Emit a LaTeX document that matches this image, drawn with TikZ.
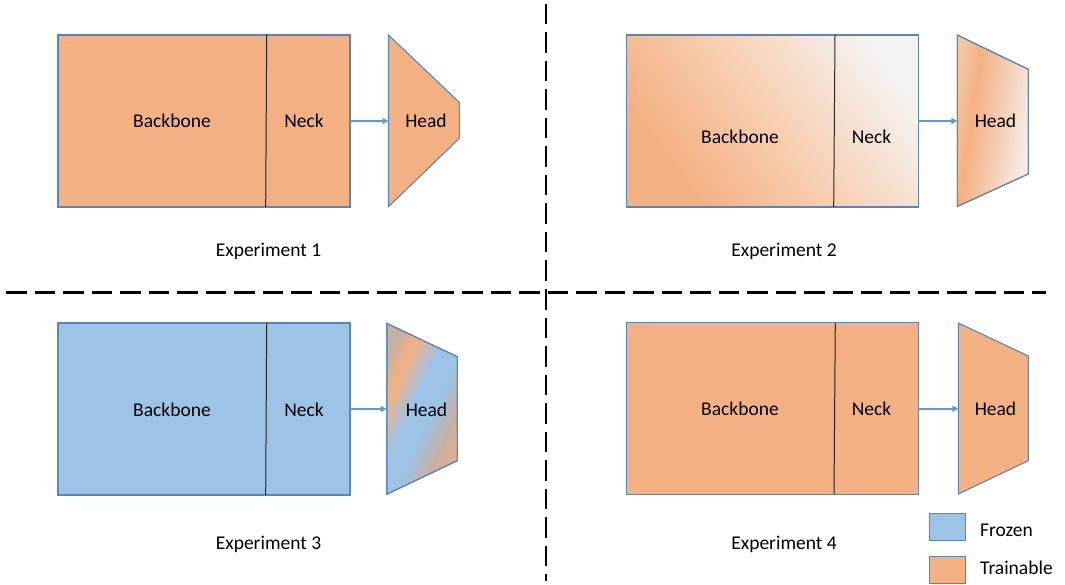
\documentclass[tikz,border=0pt]{standalone}
\usepackage{fontspec}
\setmainfont{Carlito}
\usetikzlibrary{arrows.meta}
\definecolor{orng}{HTML}{F4B183}
\definecolor{frz}{HTML}{9DC3E6}
\definecolor{edgeb}{HTML}{5A86B6}
\definecolor{arrb}{HTML}{5B9BD5}
\definecolor{tanmix}{HTML}{C6B0A2}
\definecolor{paleend}{HTML}{F5F3F2}
\pgfdeclarehorizontalshading{rectfade}{100bp}{color(0bp)=(orng); color(28bp)=(orng); color(50bp)=(orng!62!white); color(76bp)=(paleend); color(100bp)=(paleend)}
\pgfdeclarehorizontalshading{headfade}{100bp}{color(0bp)=(orng!70!white); color(25bp)=(orng!72!white); color(37bp)=(orng); color(76bp)=(paleend); color(100bp)=(paleend)}
\pgfdeclarehorizontalshading{headmix}{100bp}{color(0bp)=(tanmix); color(24bp)=(tanmix); color(33bp)=(orng); color(45bp)=(frz); color(55bp)=(frz); color(66bp)=(tanmix); color(76bp)=(orng!70!tanmix); color(100bp)=(orng!70!tanmix)}
\tikzset{
  box/.style={draw=edgeb, line width=1.1pt},
  divline/.style={draw=black!85, line width=1pt},
  link/.style={draw=arrb, line width=2pt, -{Triangle[length=6pt,width=6pt]}},
  lbl/.style={anchor=base, inner sep=0pt, font=\fontsize{19.5}{22}\selectfont},
  sep/.style={draw=black, line width=2.5pt, dash pattern=on 20.5pt off 8pt},
}
\begin{document}
\begin{tikzpicture}[x=1pt,y=-1pt]
\useasboundingbox (0,0) rectangle (1065,585);
% separators
\coordinate (vt) at (546,4);
\coordinate (vb) at (546,581);
\coordinate (hl) at (6,292.5);
\coordinate (hr) at (1046,292.5);
\draw[sep] (vt) -- (vb);
\draw[sep] (hl) -- (hr);

% ---------- Experiment 1 ----------
\path[box, fill=orng] (58,35) rectangle (350,207);
\coordinate (d1t) at (266.7,35); \coordinate (d1b) at (265.7,207);
\draw[divline] (d1t) -- (d1b);
\path[box, fill=orng] (388.5,35) -- (459.3,102.3) -- (459.3,138.3) -- (388.5,206.7) -- cycle;
\coordinate (b1r) at (350,121); \coordinate (h1l) at (388.5,121);
\draw[link] (b1r) -- (h1l);
\node[lbl] (bb1) at (172,128) {Backbone};
\node[lbl] (nk1) at (304,128) {Neck};
\node[lbl] (hd1) at (426,128) {Head};
\node[lbl] (ex1) at (268.5,256.5) {Experiment 1};

% ---------- Experiment 2 ----------
\path[box, shading=rectfade, shading angle=36] (626.5,35) rectangle (918.3,207);
\draw[box] (626.5,35) rectangle (918.3,207);
\coordinate (d2t) at (835,35); \coordinate (d2b) at (833.7,207);
\draw[divline] (d2t) -- (d2b);
\path[box, shading=headfade, shading angle=-8] (957.3,35) -- (1028.3,69.3) -- (1028.3,174) -- (957.3,206.5) -- cycle;
\draw[box] (957.3,35) -- (1028.3,69.3) -- (1028.3,174) -- (957.3,206.5) -- cycle;
\coordinate (b2r) at (918.3,121); \coordinate (h2l) at (957.3,121);
\draw[link] (b2r) -- (h2l);
\node[lbl] (bb2) at (740,143.5) {Backbone};
\node[lbl] (nk2) at (871.5,143.5) {Neck};
\node[lbl] (hd2) at (995.5,127.5) {Head};
\node[lbl] (ex2) at (784,256.5) {Experiment 2};

% ---------- Experiment 3 ----------
\path[box, fill=frz] (58,323) rectangle (350,495);
\coordinate (d3t) at (266.7,323); \coordinate (d3b) at (265.7,495);
\draw[divline] (d3t) -- (d3b);
\path[box, shading=headmix, shading angle=-25] (386.7,323.3) -- (457.3,356.7) -- (457.3,460.7) -- (386.7,494.3) -- cycle;
\draw[box] (386.7,323.3) -- (457.3,356.7) -- (457.3,460.7) -- (386.7,494.3) -- cycle;
\coordinate (b3r) at (350,409); \coordinate (h3l) at (386.7,409);
\draw[link] (b3r) -- (h3l);
\node[lbl] (bb3) at (172,416) {Backbone};
\node[lbl] (nk3) at (304,416) {Neck};
\node[lbl] (hd3) at (426.5,416) {Head};
\node[lbl] (ex3) at (268.5,549) {Experiment 3};

% ---------- Experiment 4 ----------
\path[box, fill=orng] (626.7,322.7) rectangle (918.3,494.3);
\coordinate (d4t) at (835.3,322.7); \coordinate (d4b) at (834,494.3);
\draw[divline] (d4t) -- (d4b);
\path[box, fill=orng] (958.3,323) -- (1028.3,356) -- (1028.3,460.7) -- (958.3,494) -- cycle;
\coordinate (b4r) at (918.3,408.7); \coordinate (h4l) at (958.3,408.7);
\draw[link] (b4r) -- (h4l);
\node[lbl] (bb4) at (740,415.5) {Backbone};
\node[lbl] (nk4) at (871.5,415.5) {Neck};
\node[lbl] (hd4) at (995.5,415.5) {Head};
\node[lbl] (ex4) at (784,549) {Experiment 4};

% ---------- Legend ----------
\path[box, fill=frz] (929.5,513.5) rectangle (965.5,540.7);
\path[box, fill=orng] (929.5,556.7) rectangle (965.5,583.3);
\node[lbl, anchor=base west] (lf) at (980,536) {Frozen};
\node[lbl, anchor=base west] (lt) at (980,574) {Trainable};
\end{tikzpicture}
\end{document}
